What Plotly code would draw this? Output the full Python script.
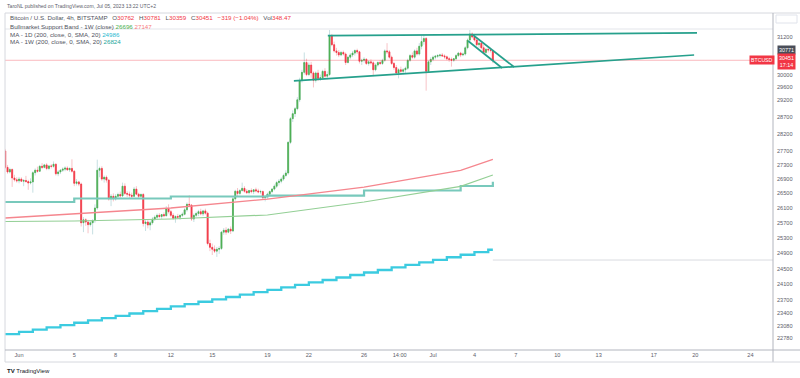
import math
from datetime import datetime, timedelta
import plotly.graph_objects as go

# ---------------- data ----------------
START = datetime(2023, 5, 31)  # first 4h bar

opens = [
    27700, 27230, 27100, 27170, 26930, 26880,   # May 31
    26850, 26900, 26840, 26860, 26830, 26790,   # Jun 1
    26820, 27080, 27150, 27120, 27260, 27230,   # Jun 2
    27300, 27200, 27270, 27260, 27320, 27050,   # Jun 3
    27100, 27150, 27180, 27210, 27160, 27200,   # Jun 4
    27120, 26780, 26820, 26760, 25700, 25780,   # Jun 5
    25720, 25650, 25700, 25760, 26100, 27150,   # Jun 6
    27200, 26900, 26950, 26870, 26350, 26420,   # Jun 7
    26350, 26420, 26470, 26430, 26700, 26500,   # Jun 8
    26480, 26450, 26420, 26620, 26480, 26420,   # Jun 9
    26470, 25680, 25720, 25640, 25700, 25800,   # Jun 10
    25850, 25900, 25870, 25920, 25890, 26080,   # Jun 11
    26000, 25900, 25820, 25870, 25850, 25900,   # Jun 12
    25930, 26050, 26200, 26180, 25800, 25900,   # Jun 13
    25950, 26000, 25940, 26020, 25960, 25150,   # Jun 14
    25050, 25000, 24950, 25000, 25020, 25450,   # Jun 15
    25500, 25450, 25530, 25480, 26350, 26560,   # Jun 16
    26500, 26580, 26640, 26560, 26520, 26580,   # Jun 17
    26550, 26600, 26570, 26540, 26550, 26380,   # Jun 18
    26420, 26480, 26550, 26620, 26700, 26800,   # Jun 19
    26840, 26900, 27000, 27070, 27950, 28650,   # Jun 20
    28800, 28950, 29220, 29820, 30070, 30380,   # Jun 21
    30000, 30300, 30050, 29820, 30050, 29880,   # Jun 22
    29900, 30100, 29950, 30000, 31230, 30950,   # Jun 23
    30750, 30700, 30620, 30700, 30650, 30380,   # Jun 24
    30550, 30620, 30680, 30760, 30720, 30420,   # Jun 25
    30450, 30480, 30350, 30400, 30370, 30150,   # Jun 26
    30300, 30380, 30350, 30450, 30750, 30720,   # Jun 27
    30550, 30350, 30220, 30050, 30150, 30100,   # Jun 28
    30150, 30200, 30450, 30600, 30550, 30750,   # Jun 29
    30650, 30900, 31050, 31150, 30100, 30400,   # Jun 30
    30480, 30550, 30580, 30600, 30620, 30590,   # Jul 1
    30560, 30500, 30480, 30450, 30500, 30600,   # Jul 2
    30680, 30620, 30650, 30850, 31100, 31300,   # Jul 3
    31200, 31100, 30950, 31000, 30850, 30700,   # Jul 4
    30800, 30780, 30762,                        # Jul 5
]
highs = [
    27760, 27300, 27220, 27200, 27020, 26950,
    26960, 26950, 26900, 26990, 26880, 26920,
    27120, 27200, 27250, 27300, 27350, 27330,
    27350, 27300, 27320, 27400, 27340, 27150,
    27180, 27230, 27260, 27260, 27230, 27460,
    27150, 26900, 26850, 26800, 25850, 25820,
    25780, 25760, 25800, 26200, 27450, 27250,
    27260, 27000, 27000, 26900, 26480, 26500,
    26480, 26520, 26550, 26800, 26780, 26560,
    26550, 26520, 26680, 26700, 26520, 26500,
    26510, 25800, 25780, 25760, 25850, 25900,
    25950, 25960, 25940, 25980, 26150, 26200,
    26050, 25960, 25900, 25940, 25920, 25980,
    26100, 26250, 26450, 26200, 25950, 26000,
    26050, 26080, 26050, 26080, 26000, 25250,
    25150, 25100, 25060, 25080, 25480, 25560,
    25580, 25560, 25600, 26400, 26600, 26650,
    26620, 26800, 26700, 26620, 26600, 26640,
    26620, 26660, 26630, 26600, 26580, 26450,
    26520, 26580, 26650, 26750, 26850, 26900,
    26950, 27050, 27150, 27980, 28700, 28900,
    29000, 29300, 29900, 30150, 30700, 30500,
    30380, 30400, 30100, 30100, 30150, 30000,
    30150, 30200, 30100, 31430, 31300, 31050,
    30850, 30780, 30750, 30760, 30700, 30600,
    30680, 30750, 30800, 30820, 30750, 30500,
    30550, 30520, 30450, 30480, 30420, 30350,
    30420, 30450, 30500, 30800, 31000, 30780,
    30600, 30400, 30300, 30200, 30250, 30200,
    30250, 30500, 30650, 30700, 30800, 30850,
    31000, 31250, 31280, 31200, 30450, 30550,
    30600, 30620, 30650, 30660, 30680, 30640,
    30600, 30560, 30540, 30520, 30650, 30720,
    30720, 30700, 30900, 31150, 31430, 31350,
    31300, 31150, 31050, 31050, 30950, 30850,
    30900, 30850, 30781,
]
lows = [
    27180, 27050, 27060, 26680, 26830, 26800,
    26780, 26820, 26700, 26800, 26600, 26750,
    26520, 27000, 27080, 27100, 27180, 27200,
    27150, 27150, 27200, 27220, 27000, 26980,
    27040, 27100, 27120, 27130, 27100, 27080,
    26700, 26720, 26700, 25600, 25450, 25620,
    25420, 25600, 25390, 25700, 26050, 26950,
    26850, 26800, 26800, 26300, 26150, 26280,
    26300, 26350, 26380, 26400, 26450, 26400,
    26380, 26350, 26400, 26450, 26350, 26380,
    25600, 25480, 25550, 25500, 25650, 25750,
    25780, 25820, 25800, 25850, 25870, 25950,
    25850, 25780, 25700, 25800, 25780, 25850,
    25900, 26000, 26120, 25750, 25720, 25850,
    25880, 25900, 25880, 25920, 25100, 24950,
    24850, 24900, 24800, 24880, 24980, 25380,
    25380, 25420, 25400, 25450, 26300, 26420,
    26450, 26550, 26520, 26480, 26470, 26500,
    26480, 26530, 26500, 26480, 26320, 26280,
    26350, 26420, 26500, 26580, 26650, 26720,
    26780, 26850, 26950, 27020, 27900, 28550,
    28700, 28900, 29150, 29750, 30000, 29950,
    29950, 29900, 29600, 29750, 29800, 29800,
    29850, 29900, 29850, 29950, 30900, 30700,
    30600, 30550, 30580, 30600, 30300, 30350,
    30480, 30550, 30600, 30650, 30350, 30300,
    30380, 30300, 30280, 30320, 29950, 30100,
    30250, 30300, 30300, 30400, 30650, 30500,
    30300, 30150, 30000, 29880, 30000, 30000,
    30050, 30150, 30400, 30500, 30500, 30600,
    30600, 30800, 30950, 29500, 30050, 30300,
    30420, 30480, 30520, 30540, 30560, 30500,
    30450, 30400, 30250, 30400, 30450, 30550,
    30550, 30580, 30600, 30800, 31050, 31150,
    31050, 30900, 30850, 30800, 30650, 30650,
    30700, 30700, 30359,
]
closes = [
    27230, 27100, 27170, 26930, 26880, 26850,
    26900, 26840, 26860, 26830, 26790, 26820,
    27080, 27150, 27120, 27260, 27230, 27300,
    27200, 27270, 27260, 27320, 27050, 27100,
    27150, 27180, 27210, 27160, 27200, 27120,
    26780, 26820, 26760, 25700, 25780, 25720,
    25650, 25700, 25760, 26100, 27150, 27200,
    26900, 26950, 26870, 26350, 26420, 26350,
    26420, 26470, 26430, 26700, 26500, 26480,
    26450, 26420, 26620, 26480, 26420, 26470,
    25680, 25720, 25640, 25700, 25800, 25850,
    25900, 25870, 25920, 25890, 26080, 26000,
    25900, 25820, 25870, 25850, 25900, 25930,
    26050, 26200, 26180, 25800, 25900, 25950,
    26000, 25940, 26020, 25960, 25150, 25050,
    25000, 24950, 25000, 25020, 25450, 25500,
    25450, 25530, 25480, 26350, 26560, 26500,
    26580, 26640, 26560, 26520, 26580, 26550,
    26600, 26570, 26540, 26550, 26380, 26420,
    26480, 26550, 26620, 26700, 26800, 26840,
    26900, 27000, 27070, 27950, 28650, 28800,
    28950, 29220, 29820, 30070, 30380, 30000,
    30300, 30050, 29820, 30050, 29880, 29900,
    30100, 29950, 30000, 31230, 30950, 30750,
    30700, 30620, 30700, 30650, 30380, 30550,
    30620, 30680, 30760, 30720, 30420, 30450,
    30480, 30350, 30400, 30370, 30150, 30300,
    30380, 30350, 30450, 30750, 30720, 30550,
    30350, 30220, 30050, 30150, 30100, 30150,
    30200, 30450, 30600, 30550, 30750, 30650,
    30900, 31050, 31150, 30100, 30400, 30480,
    30550, 30580, 30600, 30620, 30590, 30560,
    30500, 30480, 30450, 30500, 30600, 30680,
    30620, 30650, 30850, 31100, 31300, 31200,
    31100, 30950, 31000, 30850, 30700, 30800,
    30780, 30770, 30451,
]

# MA - 1D (200 SMA), one value per day, May 31 .. Jul 5
ma1d_vals = [
    22880, 22934, 22988, 23043, 23098, 23153, 23209, 23265, 23321, 23378,
    23435, 23492, 23550, 23608, 23666, 23725, 23784, 23844, 23904, 23964,
    24025, 24086, 24148, 24210, 24273, 24336, 24400, 24464, 24529, 24594,
    24659, 24725, 24791, 24857, 24922, 24986,
]

# weekly indicators (week starts, last = current bar)
week_dates = ["2023-05-31", "2023-06-05", "2023-06-12", "2023-06-19",
              "2023-06-26", "2023-07-03", "2023-07-05 08:00"]
ma1w_vals = [26263, 26359, 26414, 26440, 26580, 26705, 26824]
band_sma_vals = [25734, 25748, 25802, 25910, 26263, 26696, 27014]
band_ema_vals = [25828, 25936, 26099, 26345, 26677, 27147, 27460]

# user drawings (time, price)
upper_line = (["2023-06-23 09:00", "2023-07-20 03:00"], [31242, 31331])
lower_line = (["2023-06-20 22:00", "2023-07-19 22:00"], [29800, 30619])
chan_a = (["2023-07-03 13:00", "2023-07-06 00:00"], [31070, 30206])
chan_b = (["2023-07-03 21:30", "2023-07-06 21:00"], [31265, 30237])
top_hline_price = 31461
low_ray_price = 24720

ytick_vals = [31200, 30000, 29600, 29200, 28700, 28200, 27700, 27300, 26900,
              26500, 26100, 25700, 25300, 24900, 24500, 24100, 23700, 23400,
              23080, 22780]
xtick_dates = ["2023-06-01", "2023-06-05", "2023-06-08", "2023-06-12",
               "2023-06-15", "2023-06-19", "2023-06-22", "2023-06-26",
               "2023-06-28 14:00", "2023-07-01", "2023-07-04", "2023-07-07",
               "2023-07-10", "2023-07-13", "2023-07-17", "2023-07-20",
               "2023-07-24"]
xtick_text = ["Jun", "5", "8", "12", "15", "19", "22", "26", "14:00", "Jul",
              "4", "7", "10", "13", "17", "20", "24"]

# ---------------- build ----------------
times = [START + timedelta(hours=4 * i) for i in range(len(closes))]
day_dates = [START + timedelta(days=d) for d in range(len(ma1d_vals))]

X0 = "2023-05-30 23:34"
X1 = "2023-07-25 15:13"
Y0, Y1 = 22504, 31991

PX_L, PX_R, PX_T, PX_B = 5, 773, 13, 350


def xp(px):
    return (px - PX_L) / (PX_R - PX_L)


def yp(py):
    return (PX_B - py) / (PX_B - PX_T)


def yprice(p):
    return (math.log10(p) - math.log10(Y0)) / (math.log10(Y1) - math.log10(Y0))


FONT = "Liberation Sans"
UP, DN = "#4caf50", "#f23645"
UPW, DNW = "#c6dfe2", "#f7c3c7"
DRAW = "#26a08c"

fig = go.Figure()

# faint horizontal lines
fig.add_trace(go.Scatter(x=[X0, X1], y=[top_hline_price] * 2, mode="lines",
                         line=dict(color="#e3e5ea", width=1), hoverinfo="skip"))
fig.add_trace(go.Scatter(x=[times[-1], X1], y=[low_ray_price] * 2, mode="lines",
                         line=dict(color="#d9dbe0", width=1), hoverinfo="skip"))
# current price line
fig.add_trace(go.Scatter(x=[X0, X1], y=[closes[-1]] * 2, mode="lines",
                         line=dict(color="rgba(242,54,69,0.35)", width=1),
                         hoverinfo="skip"))

# MA 1D (stepped)
fig.add_trace(go.Scatter(x=day_dates + [times[-1]], y=ma1d_vals + [ma1d_vals[-1]],
                         mode="lines", line=dict(color="#3ccbe0", width=2.3, shape="hv"),
                         hoverinfo="skip"))
# MA 1W (stepped)
fig.add_trace(go.Scatter(x=week_dates, y=ma1w_vals, mode="lines",
                         line=dict(color="#78c9bc", width=2.2, shape="hv"),
                         hoverinfo="skip"))
# Bull market support band
fig.add_trace(go.Scatter(x=week_dates, y=band_sma_vals, mode="lines",
                         line=dict(color="#93cf95", width=1.2), hoverinfo="skip"))
fig.add_trace(go.Scatter(x=week_dates, y=band_ema_vals, mode="lines",
                         line=dict(color="#f5868e", width=1.3), hoverinfo="skip"))

# candles: wicks (pale) then bodies
fig.add_trace(go.Candlestick(
    x=times, open=opens, high=highs, low=lows, close=closes,
    increasing=dict(line=dict(color=UPW, width=1), fillcolor=UPW),
    decreasing=dict(line=dict(color=DNW, width=1), fillcolor=DNW),
    hoverinfo="skip"))
body_hi = [max(o, c) for o, c in zip(opens, closes)]
body_lo = [min(o, c) for o, c in zip(opens, closes)]
fig.add_trace(go.Candlestick(
    x=times, open=opens, high=body_hi, low=body_lo, close=closes,
    increasing=dict(line=dict(color=UP, width=0.7), fillcolor=UP),
    decreasing=dict(line=dict(color=DN, width=0.7), fillcolor=DN),
    hoverinfo="skip"))

# drawings
for (xs, ys) in (upper_line, lower_line, chan_a, chan_b):
    fig.add_trace(go.Scatter(x=xs, y=ys, mode="lines",
                             line=dict(color=DRAW, width=1.7), hoverinfo="skip"))

# ---------------- text ----------------
ann = []
GRAY = "#50535e"


def t(x, y, text, size=6, color=GRAY, **kw):
    d = dict(x=x, y=y, xref="paper", yref="paper", text=text, showarrow=False,
             xanchor="left", yanchor="middle",
             font=dict(family=FONT, size=size, color=color))
    d.update(kw)
    ann.append(d)


t(xp(5), yp(6), "TaroNL published on TradingView.com, Jul 05, 2023 13:22 UTC+2",
  size=5.1, color="#5d606b")

o, h, l, c = opens[-1], highs[-1], lows[-1], closes[-1]
chg = c - closes[-2]
pct = chg / closes[-2] * 100
R = DN


def col(v, cc):
    return f'<span style="color:{cc}">{v}</span>'


LF = 6.2
line1 = ("Bitcoin / U.S. Dollar, 4h, BITSTAMP \u2002O" + col(o, R) + " \u2002H" + col(h, R) +
         " \u2002L" + col(l, R) + " \u2002C" + col(c, R) + " \u2002" +
         col(f"\u2212{abs(chg)} (\u2212{abs(pct):.2f}%)", R) + " \u2002Vol" + col("348.47", R))
t(xp(8), yp(18), line1, size=LF)
t(xp(8), yp(26), "Bullmarket Support Band - 1W (close) " + col("26696", "#4caf50") +
  " " + col("27147", "#f77c80"), size=LF)
t(xp(8), yp(34), "MA - 1D (200, close, 0, SMA, 20) " + col("24986", "#1fb8d0"), size=LF)
t(xp(8), yp(42), "MA - 1W (200, close, 0, SMA, 20) " + col("26824", "#26a69a"), size=LF)

# axis badges
t(xp(786), yprice(30771), "30771", size=5.4, color="white", xanchor="center",
  bgcolor="#4a4e59", borderpad=1)
t(xp(786), yp(61), "30451<br>17:14", size=5.4, color="white", xanchor="center",
  bgcolor=DN, borderpad=1)
t(xp(762), yprice(closes[-1]), "BTCUSD", size=5.2, color="white", xanchor="center",
  bgcolor=DN, borderpad=1)

t(xp(5), yp(371), "<b>TV</b> TradingView", size=6, color="#131722")

shapes = []
LC = "#d6d8de"


def seg(x0, y0, x1, y1, color=LC, w=1):
    shapes.append(dict(type="line", xref="paper", yref="paper",
                       x0=xp(x0), y0=yp(y0), x1=xp(x1), y1=yp(y1),
                       line=dict(color=color, width=w)))


seg(5, 13, 800, 13)
seg(5, 13, 5, 362)
seg(773, 13, 773, 362, color="#b2b5be")
seg(5, 350, 800, 350, color="#b2b5be")
seg(5, 362, 800, 362)
shapes.append(dict(type="rect", xref="paper", yref="paper",
                   x0=xp(776), x1=xp(797), y0=yp(23), y1=yp(15),
                   line=dict(color="#e0e3eb", width=1), fillcolor="white"))

fig.update_layout(
    width=800, height=378,
    margin=dict(l=PX_L, r=800 - PX_R, t=PX_T, b=378 - PX_B, autoexpand=False),
    paper_bgcolor="white", plot_bgcolor="white",
    showlegend=False, hovermode=False,
    annotations=ann, shapes=shapes,
    font=dict(family=FONT, size=6, color=GRAY),
    xaxis=dict(type="date", range=[X0, X1], rangeslider=dict(visible=False),
               showgrid=False, zeroline=False, showline=False, automargin=False,
               tickvals=xtick_dates, ticktext=xtick_text, ticks="",
               tickfont=dict(family=FONT, size=5.6, color="#5d606b")),
    yaxis=dict(type="log", side="right", range=[math.log10(Y0), math.log10(Y1)],
               showgrid=False, zeroline=False, showline=False, automargin=False,
               tickvals=ytick_vals, ticktext=[str(v) for v in ytick_vals],
               ticks="", ticklabelstandoff=3,
               tickfont=dict(family=FONT, size=5.6, color="#5d606b")),
    boxgap=0.4,
)

fig.write_html("out.html", config={"displayModeBar": False},
               post_script="document.body.style.margin='0';")
